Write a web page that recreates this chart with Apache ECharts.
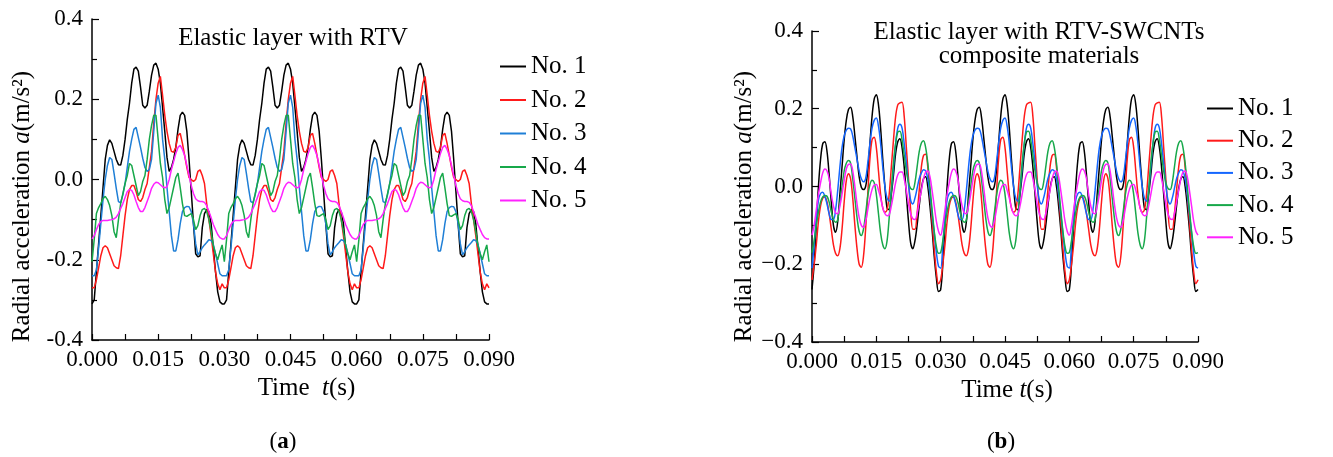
<!DOCTYPE html>
<html><head><meta charset="utf-8">
<script src="https://cdn.jsdelivr.net/npm/echarts@6/dist/echarts.min.js"></script>
<style>html,body{margin:0;padding:0;background:#fff}#c{width:1333px;height:457px}</style>
</head><body><div id="c"></div>
<script>
// ---- data (one 0.030 s period, sampled every 0.0005 s; the signal repeats 3 times) ----
const STEP_S = 0.0005;
const PERIODS = 3;
const seriesNames = ['No. 1', 'No. 2', 'No. 3', 'No. 4', 'No. 5'];
const xTickLabels = ['0.000', '0.015', '0.030', '0.045', '0.060', '0.075', '0.090'];
const yTickLabels = ['-0.4', '-0.2', '0.0', '0.2', '0.4'];

// (a) Elastic layer with RTV
const a1 = [-0.31,-0.30,-0.23,-0.16,-0.09,-0.02,0.05,0.085,0.099,0.09,0.07,0.05,0.037,0.036,0.06,0.1,0.15,0.19,0.24,0.275,0.28,0.27,0.23,0.185,0.178,0.185,0.22,0.26,0.285,0.29,0.275,0.24,0.18,0.12,0.055,0.02,0.03,0.05,0.08,0.125,0.16,0.168,0.16,0.12,0.05,-0.03,-0.11,-0.185,-0.193,-0.19,-0.12,-0.085,-0.075,-0.08,-0.11,-0.17,-0.23,-0.28,-0.305,-0.31];
const a2 = [-0.27,-0.27,-0.25,-0.22,-0.19,-0.17,-0.165,-0.17,-0.185,-0.2,-0.215,-0.22,-0.222,-0.19,-0.14,-0.09,-0.05,-0.025,-0.015,-0.015,-0.03,-0.05,-0.055,-0.045,-0.025,-0.01,0.03,0.07,0.14,0.2,0.24,0.257,0.21,0.16,0.12,0.09,0.07,0.068,0.08,0.11,0.115,0.09,0.06,0.03,0.005,0.0,-0.005,0.0,0.02,0.024,0.01,-0.01,-0.06,-0.1,-0.14,-0.185,-0.23,-0.26,-0.275,-0.26];
const a3 = [-0.24,-0.24,-0.225,-0.17,-0.11,-0.05,0.0,0.035,0.055,0.05,0.015,-0.022,-0.055,-0.058,-0.038,-0.01,0.03,0.07,0.1,0.125,0.13,0.105,0.08,0.053,0.03,0.02,0.025,0.05,0.12,0.19,0.21,0.18,0.1,0.05,-0.02,-0.08,-0.14,-0.178,-0.178,-0.15,-0.11,-0.08,-0.07,-0.067,-0.068,-0.08,-0.11,-0.16,-0.188,-0.18,-0.17,-0.163,-0.157,-0.15,-0.152,-0.162,-0.185,-0.21,-0.235,-0.24];
const a4 = [-0.205,-0.15,-0.085,-0.07,-0.06,-0.048,-0.042,-0.05,-0.065,-0.09,-0.13,-0.145,-0.1,-0.06,-0.035,-0.01,0.01,0.04,0.035,0.01,-0.015,-0.04,-0.03,-0.005,0.01,0.05,0.1,0.135,0.16,0.16,0.1,0.04,0.005,-0.05,-0.085,-0.07,-0.045,-0.02,0.005,0.016,-0.02,-0.06,-0.09,-0.092,-0.088,-0.085,-0.1,-0.125,-0.115,-0.09,-0.075,-0.072,-0.08,-0.1,-0.13,-0.165,-0.185,-0.2,-0.18,-0.163];
const a5 = [-0.148,-0.14,-0.125,-0.112,-0.105,-0.102,-0.102,-0.102,-0.101,-0.1,-0.098,-0.094,-0.085,-0.072,-0.06,-0.045,-0.03,-0.025,-0.027,-0.038,-0.055,-0.07,-0.08,-0.08,-0.07,-0.055,-0.04,-0.022,-0.012,-0.007,-0.008,-0.013,-0.018,-0.021,-0.018,0.0,0.025,0.045,0.065,0.08,0.085,0.075,0.06,0.035,0.01,-0.015,-0.035,-0.048,-0.053,-0.055,-0.055,-0.057,-0.065,-0.08,-0.095,-0.112,-0.125,-0.137,-0.145,-0.148];

// (b) Elastic layer with RTV-SWCNTs composite materials
const b1 = [-0.265,-0.2,-0.1,0.0,0.07,0.11,0.115,0.09,0.03,-0.04,-0.1,-0.118,-0.09,-0.02,0.05,0.12,0.17,0.198,0.204,0.18,0.13,0.075,0.025,-0.002,-0.008,0.0,0.04,0.11,0.18,0.225,0.236,0.21,0.15,0.07,0.0,-0.055,-0.06,-0.02,0.03,0.085,0.115,0.123,0.1,0.05,-0.02,-0.09,-0.145,-0.16,-0.14,-0.1,-0.05,-0.005,0.02,0.025,0.0,-0.05,-0.11,-0.18,-0.235,-0.27];
const b2 = [-0.24,-0.2,-0.15,-0.09,-0.05,-0.03,-0.027,-0.04,-0.07,-0.11,-0.15,-0.172,-0.178,-0.16,-0.11,-0.04,0.015,0.033,0.02,-0.03,-0.1,-0.16,-0.2,-0.208,-0.18,-0.11,-0.02,0.07,0.12,0.127,0.1,0.04,-0.02,-0.055,-0.066,-0.06,-0.02,0.05,0.12,0.18,0.21,0.215,0.217,0.18,0.1,0.02,-0.06,-0.11,-0.11,-0.07,-0.01,0.05,0.08,0.083,0.05,-0.02,-0.09,-0.16,-0.22,-0.25];
const b3 = [-0.21,-0.15,-0.08,-0.035,-0.018,-0.015,-0.025,-0.045,-0.07,-0.085,-0.085,-0.06,-0.01,0.05,0.1,0.13,0.145,0.15,0.148,0.13,0.1,0.07,0.04,0.02,0.012,0.02,0.06,0.11,0.15,0.17,0.176,0.155,0.11,0.05,0.0,-0.03,-0.038,-0.01,0.05,0.11,0.15,0.16,0.15,0.11,0.06,0.005,-0.035,-0.045,-0.03,-0.005,0.02,0.035,0.043,0.04,0.02,-0.02,-0.07,-0.12,-0.17,-0.205];
const b4 = [-0.17,-0.14,-0.1,-0.065,-0.04,-0.027,-0.023,-0.025,-0.04,-0.065,-0.085,-0.092,-0.085,-0.04,0.0,0.04,0.06,0.067,0.06,0.02,-0.03,-0.08,-0.115,-0.126,-0.11,-0.07,-0.025,0.005,0.016,0.01,-0.02,-0.07,-0.12,-0.15,-0.16,-0.14,-0.08,-0.01,0.06,0.11,0.14,0.142,0.12,0.08,0.04,0.01,-0.005,-0.008,0.01,0.05,0.09,0.112,0.118,0.1,0.06,0.0,-0.06,-0.115,-0.155,-0.172];
const b5 = [-0.125,-0.1,-0.06,-0.02,0.01,0.035,0.045,0.04,0.02,-0.02,-0.05,-0.068,-0.07,-0.05,-0.02,0.015,0.045,0.057,0.058,0.04,0.0,-0.045,-0.08,-0.1,-0.105,-0.09,-0.06,-0.03,-0.008,0.004,0.005,-0.01,-0.03,-0.055,-0.07,-0.075,-0.073,-0.05,-0.02,0.01,0.03,0.037,0.037,0.02,-0.01,-0.045,-0.07,-0.083,-0.085,-0.07,-0.04,-0.01,0.02,0.037,0.04,0.025,-0.01,-0.05,-0.09,-0.115];

const colorsA = ['#000000', '#ff1a1a', '#1f7fd6', '#17a84a', '#ff22ff'];
const colorsB = ['#000000', '#ff1a1a', '#1466ff', '#17a84a', '#ff22ff'];

// ---- build ----
function expand(p) {
  const out = [];
  for (let k = 0; k < PERIODS; k++) {
    for (let i = 0; i < p.length; i++) {
      out.push([+(((k * p.length) + i) * STEP_S).toFixed(4), p[i]]);
    }
  }
  out.push([+(PERIODS * p.length * STEP_S).toFixed(4), p[0]]);
  return out;
}

const FONT = 'Liberation Serif';
function xAxisCfg(gridIndex, name, nameGap, namePad) {
  return {
    type: 'value', gridIndex, min: 0, max: 0.09, interval: 0.015,
    name, nameLocation: 'middle', nameGap,
    nameTextStyle: { fontFamily: FONT, fontSize: 25, color: '#000', padding: namePad,
      rich: { i: { fontFamily: FONT, fontSize: 25, fontStyle: 'italic', color: '#000' } } },
    axisLine: { show: true, onZero: false, lineStyle: { color: '#000', width: 1.5 } },
    axisTick: { show: true, inside: true, length: 6, lineStyle: { color: '#000', width: 1.2 } },
    minorTick: { show: true, splitNumber: 2, length: 6, lineStyle: { color: '#000', width: 1.2 } },
    splitLine: { show: false },
    axisLabel: { fontFamily: FONT, fontSize: 23, color: '#000', margin: 8,
      formatter: v => xTickLabels[Math.round(v / 0.015)] },
  };
}
function yAxisCfg(gridIndex, minus, nameGap, namePad) {
  return {
    type: 'value', gridIndex, min: -0.4, max: 0.4, interval: 0.2,
    name: 'Radial acceleration {i|a}(m/s²)', nameLocation: 'middle', nameGap, nameRotate: 90,
    nameTextStyle: { fontFamily: FONT, fontSize: 25, color: '#000', padding: namePad,
      rich: { i: { fontFamily: FONT, fontSize: 25, fontStyle: 'italic', color: '#000' } } },
    axisLine: { show: true, onZero: false, lineStyle: { color: '#000', width: 1.5 } },
    axisTick: { show: true, inside: true, length: 7, lineStyle: { color: '#000', width: 1.2 } },
    minorTick: { show: true, splitNumber: 2, length: 5, lineStyle: { color: '#000', width: 1.2 } },
    splitLine: { show: false },
    axisLabel: { fontFamily: FONT, fontSize: 23, color: '#000', margin: 9,
      formatter: v => yTickLabels[Math.round((v + 0.4) / 0.2)].replace('-', minus) },
  };
}

const series = [];
[a1, a2, a3, a4, a5].forEach((p, i) => series.push({
  name: seriesNames[i], type: 'line', xAxisIndex: 0, yAxisIndex: 0, data: expand(p),
  showSymbol: false, symbol: 'none', smooth: false, color: colorsA[i],
  lineStyle: { width: 1.5, color: colorsA[i] }, animation: false, z: 2 + i,
}));
[b1, b2, b3, b4, b5].forEach((p, i) => series.push({
  name: seriesNames[i], type: 'line', xAxisIndex: 1, yAxisIndex: 1, data: expand(p),
  showSymbol: false, symbol: 'none', smooth: 0.35, color: colorsB[i],
  lineStyle: { width: 1.5, color: colorsB[i] }, animation: false, z: 2 + i,
}));

function legendCfg(left, top, gap, colors) {
  return {
    orient: 'vertical', left, top, itemGap: gap, itemWidth: 26, itemHeight: 2,
    icon: 'rect', selectedMode: false, padding: 0,
    textStyle: { fontFamily: FONT, fontSize: 25, color: '#000', lineHeight: 22, padding: [0, 0, 0, 0] },
    data: seriesNames.map((n, i) => ({ name: n, itemStyle: { color: colors[i] } })),
  };
}

const option = {
  backgroundColor: '#fff',
  animation: false,
  grid: [
    { left: 92, top: 19, width: 397, height: 321 },
    { left: 812, top: 31, width: 386, height: 311 },
  ],
  xAxis: [
    xAxisCfg(0, 'Time  {i|t}(s)', 34, [0, 0, 0, 32]),
    xAxisCfg(1, 'Time {i|t}(s)', 30, [0, 0, 0, 4]),
  ],
  yAxis: [yAxisCfg(0, '-', 57, [0, 54, 0, 0]), yAxisCfg(1, '\u2212', 52, [0, 40, 0, 0])],
  legend: [legendCfg(500, 54, 8.5, colorsA), legendCfg(1207, 96, 7.2, colorsB)],
  graphic: [
    { type: 'text', style: { x: 293, y: 38, text: 'Elastic layer with RTV', font: '25px "Liberation Serif"', fill: '#000', align: 'center', verticalAlign: 'middle' } },
    { type: 'text', style: { x: 1039, y: 32, text: 'Elastic layer with RTV-SWCNTs', font: '25px "Liberation Serif"', fill: '#000', align: 'center', verticalAlign: 'middle' } },
    { type: 'text', style: { x: 1039, y: 56, text: 'composite materials', font: '25px "Liberation Serif"', fill: '#000', align: 'center', verticalAlign: 'middle' } },
    { type: 'text', style: { x: 283, y: 442, text: '({b|a})', font: '23px "Liberation Serif"', fill: '#000', align: 'center', verticalAlign: 'middle',
      rich: { b: { font: 'bold 23px "Liberation Serif"', fill: '#000' } } } },
    { type: 'text', style: { x: 1001, y: 442, text: '({b|b})', font: '23px "Liberation Serif"', fill: '#000', align: 'center', verticalAlign: 'middle',
      rich: { b: { font: 'bold 23px "Liberation Serif"', fill: '#000' } } } },
  ],
  series,
};

const chart = echarts.init(document.getElementById('c'), null, { renderer: 'canvas' });
chart.setOption(option);
</script>
</body></html>
